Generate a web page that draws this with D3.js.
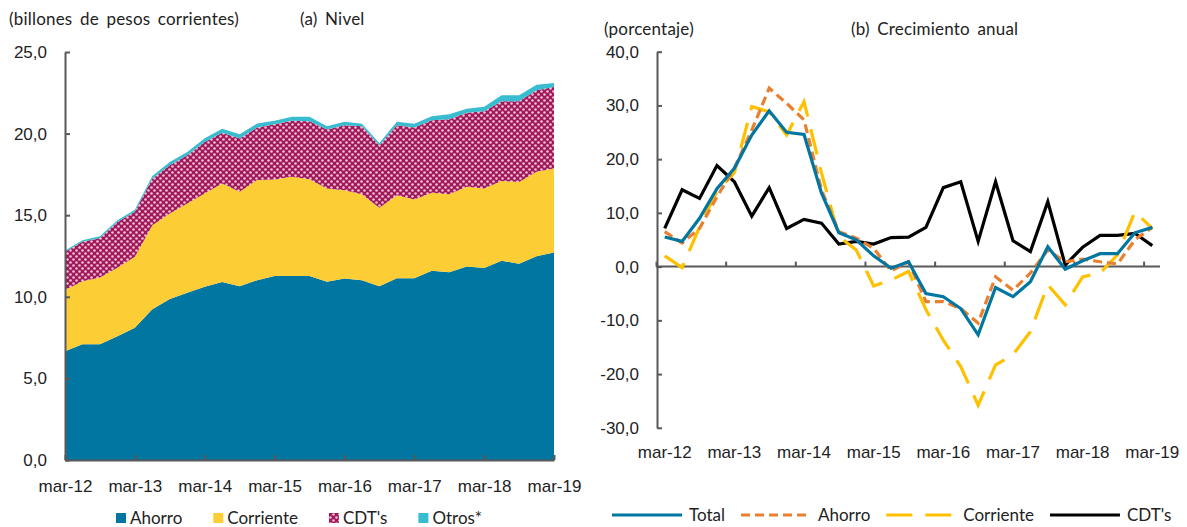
<!DOCTYPE html>
<html>
<head>
<meta charset="utf-8">
<script src="https://cdn.jsdelivr.net/npm/d3@7"></script>
<style>
  body { margin: 0; background: #fff; }
  svg { font-family: Lato, "Noto Sans", sans-serif; }
  .axis text { font-size: 17px; fill: #222; }
  .axis path, .axis line { stroke: #595959; stroke-width: 2; }
  .ttl { font-size: 17px; fill: #222; letter-spacing: 0.2px; word-spacing: 3px; }
</style>
</head>
<body>
<svg width="1187" height="527"></svg>
<script>
// quarters mar-12 .. mar-19
const months = ["mar", "jun", "sep", "dic"];
const quarters = [];
for (let yr = 12; yr <= 19; yr++) {
  months.forEach(m => { if (!(yr === 19 && m !== "mar")) quarters.push(m + "-" + yr); });
}
const tickLabels = ["mar-12", "mar-13", "mar-14", "mar-15", "mar-16", "mar-17", "mar-18", "mar-19"];

// (a) Nivel, billones de pesos corrientes
const ahorro = [6.67, 7.10, 7.10, 7.59, 8.10, 9.23, 9.86, 10.25, 10.61, 10.90, 10.65, 11.02, 11.27, 11.27, 11.27,
  10.92, 11.12, 11.02, 10.65, 11.14, 11.14, 11.59, 11.51, 11.86, 11.76, 12.21, 12.02, 12.49, 12.72];
const corriente = [3.74, 3.86, 4.09, 4.19, 4.35, 5.16, 5.24, 5.47, 5.72, 6.04, 5.78, 6.13, 5.92, 6.08, 5.93,
  5.71, 5.41, 5.27, 4.80, 5.09, 4.82, 4.78, 4.78, 4.88, 4.87, 4.89, 5.02, 5.17, 5.14];
const cdts = [2.35, 2.41, 2.42, 2.81, 2.76, 2.86, 2.96, 2.96, 3.16, 3.11, 3.27, 3.22, 3.39, 3.43, 3.56,
  3.62, 3.98, 4.16, 3.84, 4.28, 4.41, 4.45, 4.59, 4.53, 4.74, 4.88, 4.94, 5.00, 5.00];
const otros = [0.08, 0.10, 0.10, 0.10, 0.12, 0.15, 0.20, 0.20, 0.22, 0.25, 0.26, 0.25, 0.20, 0.25, 0.27,
  0.20, 0.21, 0.16, 0.14, 0.21, 0.24, 0.25, 0.31, 0.26, 0.27, 0.37, 0.37, 0.34, 0.24];
const levelTicks = [0, 5, 10, 15, 20, 25];

// (b) Crecimiento anual, porcentaje
const gTotal = [5.5, 4.7, 9.0, 14.5, 18.3, 24.5, 29.0, 25.0, 24.6, 13.7, 6.3, 5.0, 2.0, -0.3, 0.9,
  -5.0, -5.6, -7.8, -12.7, -3.9, -5.6, -2.8, 3.7, -0.5, 1.1, 2.4, 2.4, 6.3, 7.3];
const gAhorro = [6.5, 4.4, 7.1, 13.0, 18.3, 25.4, 33.2, 30.4, 27.3, 14.3, 6.5, 5.3, 3.4, -0.8, 0.9,
  -6.5, -6.5, -7.8, -10.5, -1.9, -4.4, -1.2, 3.1, 0.9, 1.4, 0.9, 0.5, 5.0, 7.3];
const gCorriente = [2.0, -0.2, 7.4, 14.0, 17.5, 29.8, 28.8, 24.5, 30.7, 17.5, 5.6, 3.1, -3.6, -2.5, -0.9,
  -8.0, -13.7, -18.6, -25.8, -18.3, -16.4, -12.1, -3.4, -7.1, -1.9, -1.2, 2.2, 10.2, 7.1];
const gCdts = [7.1, 14.3, 12.7, 18.8, 15.8, 9.4, 14.7, 7.1, 8.8, 8.1, 4.2, 4.7, 4.2, 5.4, 5.5,
  7.3, 14.7, 15.8, 4.7, 15.8, 4.8, 2.8, 12.1, 0.3, 3.6, 5.8, 5.8, 6.2, 3.9];
const growthTicks = [-30, -20, -10, 0, 10, 20, 30, 40];

const fmt = d => d.toFixed(1).replace(".", ",");
const svg = d3.select("svg");

// hatch for CDT's
const pat = svg.append("defs").append("pattern")
  .attr("id", "cdt").attr("patternUnits", "userSpaceOnUse")
  .attr("width", 6).attr("height", 6);
pat.append("rect").attr("width", 6).attr("height", 6).attr("fill", "#a0185a");
[[1.5, 1.5], [4.5, 4.5]].forEach(p => {
  pat.append("circle").attr("cx", p[0]).attr("cy", p[1]).attr("r", 1.3).attr("fill", "#efc3d7");
});

// ---------- left panel ----------
const areaKeys = ["Ahorro", "Corriente", "CDT's", "Otros*"];
const areaColors = ["#0076a0", "#fccd34", "url(#cdt)", "#38bccf"];
const rows = quarters.map((q, i) => ({
  q: q, "Ahorro": ahorro[i], "Corriente": corriente[i], "CDT's": cdts[i], "Otros*": otros[i]
}));
const stacked = d3.stack().keys(areaKeys)(rows);

const x1 = d3.scalePoint(quarters, [65, 554]);
const y1 = d3.scaleLinear([0, 25], [460, 52]);

const area = d3.area()
  .x(d => x1(d.data.q))
  .y0(d => y1(d[0]))
  .y1(d => y1(d[1]));

svg.append("g").selectAll("path")
  .data(stacked)
  .join("path")
  .attr("d", area)
  .attr("fill", (d, i) => areaColors[i]);

svg.append("g").attr("class", "axis")
  .attr("transform", "translate(65,0)")
  .call(d3.axisLeft(y1).tickValues(levelTicks).tickFormat(fmt).tickSizeInner(-5).tickSizeOuter(0).tickPadding(18));

svg.append("g").attr("class", "axis")
  .attr("transform", "translate(0,460)")
  .call(d3.axisBottom(x1).tickValues(tickLabels).tickSizeInner(-5).tickSizeOuter(0).tickPadding(20));

svg.append("text").attr("class", "ttl").attr("x", 9).attr("y", 25).text("(billones de pesos corrientes)");
svg.append("text").attr("class", "ttl").attr("x", 300).attr("y", 25).text("(a) Nivel");

// left legend
let lx = 116;
areaKeys.forEach((k, i) => {
  const g = svg.append("g").attr("transform", `translate(${lx},0)`);
  g.append("rect").attr("x", 0).attr("y", 513).attr("width", 10).attr("height", 10).attr("fill", areaColors[i]);
  const t = g.append("text").attr("x", 14).attr("y", 524).attr("font-size", 17).attr("fill", "#222").text(k);
  lx += 14 + t.node().getComputedTextLength() + 31;
});

// ---------- right panel ----------
const x2 = d3.scaleBand(quarters, [656, 1161]);
const xi = d3.scaleLinear([0, quarters.length], [656, 1161]);
const y2 = d3.scaleLinear([-30, 40], [427.8, 51.7]);
const cx = q => x2(q) + x2.bandwidth() / 2;

svg.append("g").attr("class", "axis")
  .attr("transform", "translate(657,0)")
  .call(d3.axisLeft(y2).tickValues(growthTicks).tickFormat(fmt).tickSizeInner(-5).tickSizeOuter(0).tickPadding(18));

svg.append("g").attr("class", "axis")
  .attr("transform", `translate(0,${y2(0)})`)
  .call(d3.axisBottom(xi).tickValues(d3.range(0, 29, 4)).tickFormat("").tickSizeInner(-5).tickSizeOuter(0))
  .select(".domain").attr("d", "M656,0H1160");

svg.append("g").attr("class", "axis")
  .attr("transform", "translate(0,446)")
  .call(d3.axisBottom(x2).tickValues(tickLabels).tickSize(0).tickPadding(0))
  .call(g => g.select(".domain").remove());

const series = [
  { name: "Total", values: gTotal, color: "#0076a0", dash: null },
  { name: "Ahorro", values: gAhorro, color: "#e8802f", dash: "9,5" },
  { name: "Corriente", values: gCorriente, color: "#ffc000", dash: "26,13" },
  { name: "CDT's", values: gCdts, color: "#000000", dash: null }
];

const line = d3.line().x((d, i) => cx(quarters[i])).y(d => y2(d));

svg.append("g").selectAll("path")
  .data(series.slice().reverse())
  .join("path")
  .attr("d", d => line(d.values))
  .attr("fill", "none")
  .attr("stroke", d => d.color)
  .attr("stroke-width", 3.2)
  .attr("stroke-dasharray", d => d.dash);

svg.append("text").attr("class", "ttl").attr("x", 604).attr("y", 35).text("(porcentaje)");
svg.append("text").attr("class", "ttl").attr("x", 851).attr("y", 35).text("(b) Crecimiento anual");

// right legend
let rx = 612;
series.forEach(s => {
  const g = svg.append("g").attr("transform", `translate(${rx},0)`);
  g.append("line").attr("x1", 0).attr("x2", 70).attr("y1", 515).attr("y2", 515)
    .attr("stroke", s.color).attr("stroke-width", 3.2).attr("stroke-dasharray", s.dash);
  const t = g.append("text").attr("x", 77).attr("y", 521).attr("font-size", 17).attr("fill", "#222").text(s.name);
  rx += 77 + t.node().getComputedTextLength() + 16;
});
</script>
</body>
</html>
